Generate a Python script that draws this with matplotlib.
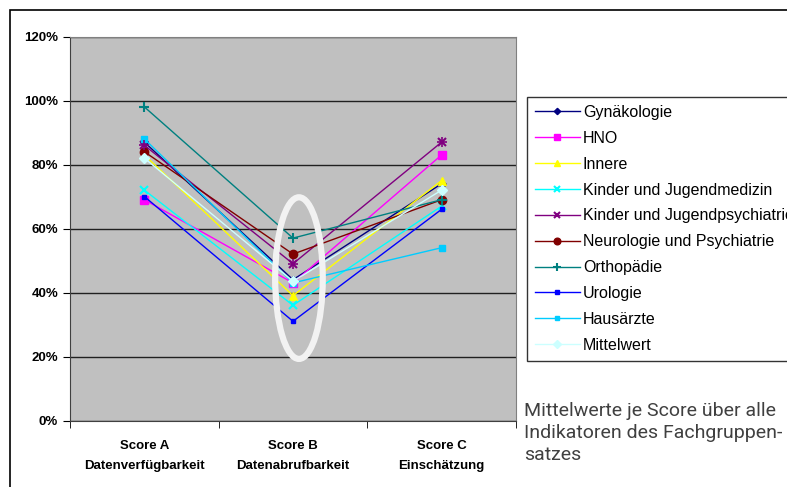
import matplotlib.pyplot as plt
from matplotlib.patches import Ellipse, Rectangle
from matplotlib.ticker import PercentFormatter

# Scores (percent)
categories = ["Score A\nDatenverfügbarkeit", "Score B\nDatenabrufbarkeit", "Score C\nEinschätzung"]
series_names = ["Gynäkologie", "HNO", "Innere", "Kinder und Jugendmedizin",
                "Kinder und Jugendpsychiatrie", "Neurologie und Psychiatrie",
                "Orthopädie", "Urologie", "Hausärzte", "Mittelwert"]
gynaekologie = [87, 44, 74]
hno = [69, 43, 83]
innere = [83, 39, 75]
kinder_jugendmedizin = [72, 36, 67]
kinder_jugendpsychiatrie = [86, 49, 87]
neurologie = [84, 52, 69]
orthopaedie = [98, 57, 69]
urologie = [70, 31, 66]
hausaerzte = [88, 43, 54]
mittelwert = [82, 43.5, 72]

values = [gynaekologie, hno, innere, kinder_jugendmedizin, kinder_jugendpsychiatrie,
          neurologie, orthopaedie, urologie, hausaerzte, mittelwert]
colors = ["#000080", "#FF00FF", "#FFFF00", "#00FFFF", "#800080",
          "#800000", "#008080", "#0000FF", "#00CCFF", "#CCFFFF"]
markers = ["D", "s", "^", "x", "x", "o", "+", "s", "s", "D"]
msizes = [4, 6, 6, 6, 6, 6, 7, 3, 4, 5]

plt.rcParams['font.family'] = ['Liberation Sans', 'DejaVu Sans']

fig = plt.figure(figsize=(7.87, 4.87), dpi=100)
ax = fig.add_axes([70 / 787, 1 - 420.5 / 487, 446 / 787, 384 / 487])
ax.set_facecolor("#C0C0C0")

# outer chart frame
fig.patches.append(Rectangle((10 / 787, -0.1), 1.0, 0.1 + 477 / 487, transform=fig.transFigure,
                             fill=False, edgecolor="black", linewidth=1.2))

x = range(len(categories))
for name, vals, c, m, ms in zip(series_names, values, colors, markers, msizes):
    mew = 1.5 if m in ("x", "+") else 1
    ax.plot(x, vals, color=c, marker=m, markersize=ms, markeredgewidth=mew,
            linewidth=1, label=name)
# the star-like marker for Kinder und Jugendpsychiatrie
ax.plot(x, kinder_jugendpsychiatrie, color="#800080", marker="+", markersize=7,
        markeredgewidth=1.2, linestyle="none")

ax.add_patch(Ellipse((1.04, 44.5), 0.32, 50.5, fill=False, edgecolor="#F2F2F2", linewidth=4.5, zorder=5))

ax.set_xlim(-0.5, 2.5)
ax.set_ylim(0, 120)
ax.set_yticks(range(0, 121, 20))
ax.yaxis.set_major_formatter(PercentFormatter(decimals=0))
ax.grid(axis="y", color="#202020", linewidth=1)
ax.set_axisbelow(True)

ax.set_xticks(x)
ax.set_xticklabels(categories, fontsize=9.5, fontweight="bold", linespacing=1.9)
ax.set_xticks([-0.5, 0.5, 1.5, 2.5], minor=True)
ax.tick_params(axis="x", which="major", length=0, pad=14)
ax.tick_params(axis="x", which="minor", length=5, direction="out")
ax.tick_params(axis="y", length=5, labelsize=9.5)
for lab in ax.get_yticklabels():
    lab.set_fontweight("bold")

for side in ["top", "right"]:
    ax.spines[side].set_color("#808080")
for side in ["left", "bottom"]:
    ax.spines[side].set_color("#404040")

leg = ax.legend(loc="upper left", bbox_to_anchor=(527 / 787, 1 - 97 / 487),
                bbox_transform=fig.transFigure, frameon=True, fancybox=False,
                edgecolor="black", fontsize=11.5, handlelength=2.8, handletextpad=0.2,
                labelspacing=0.68, borderpad=0.5, borderaxespad=0, markerscale=0.8)
leg.get_frame().set_linewidth(1)

fig.text(524 / 787, 1 - 402 / 487,
         "Mittelwerte je Score über alle\nIndikatoren des Fachgruppen-\nsatzes",
         fontsize=14, family=['Roboto', 'Liberation Sans', 'DejaVu Sans'],
         color="#404040", va="top", ha="left", linespacing=1.3)

fig.savefig("out.png", dpi=100)
